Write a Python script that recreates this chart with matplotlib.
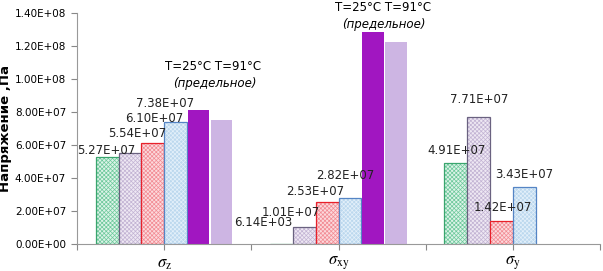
import numpy as np
import matplotlib
matplotlib.use('Agg')
from matplotlib import pyplot as plt

categories = [r'$\sigma_\mathrm{z}$', r'$\sigma_\mathrm{xy}$', r'$\sigma_\mathrm{y}$']
green_vals = [5.27e7, 6.14e3, 4.91e7]
lilac_vals = [5.54e7, 1.01e7, 7.71e7]
red_vals = [6.10e7, 2.53e7, 1.42e7]
blue_vals = [7.38e7, 2.82e7, 3.43e7]
purple_vals = [8.1e7, 1.285e8, np.nan]
lpurple_vals = [7.5e7, 1.225e8, np.nan]
y_ticks = [0, 2e7, 4e7, 6e7, 8e7, 1.0e8, 1.2e8, 1.4e8]

# label offsets in pixels (dx, dy) from bar top centre
label_offsets = [
    [(-1, 7), (-18, 21), (1, 13)],
    [(7, 19), (-14, 15), (1, 17)],
    [(1, 25), (-12, 11), (1, 13)],
    [(-11, 19), (-5, 22), (0, 13)],
]

plt.rcParams['hatch.linewidth'] = 0.5
plt.rcParams['mathtext.fontset'] = 'stix'

fig = plt.figure(figsize=(6.03, 2.71), dpi=100)
ax = fig.add_axes([0.128, 0.0996, 0.867, 0.852])

x = np.arange(len(categories))
w = 0.131
series = [
    (green_vals, '#dcf3e8', '#6cc89a', '#3aa56e', 'xxxxxxxx'),
    (lilac_vals, '#eee8f3', '#c2b3d3', '#6a6280', 'xxxxxxxx'),
    (red_vals, '#fcd9dc', '#f28a93', '#e8202a', 'xxxxxxxx'),
    (blue_vals, '#bcd8ee', '#e4f0fa', '#5585c5', 'xxxxxxxx'),
    (purple_vals, '#a116c1', None, '#a116c1', None),
    (lpurple_vals, '#cdb5e3', None, '#cdb5e3', None),
]

for i, (vals, face, hatch_c, edge, hatch) in enumerate(series):
    pos = x + (i - 2.5) * w
    if hatch:
        ax.bar(pos, vals, w, color=face, edgecolor=hatch_c, hatch=hatch, linewidth=0)
        ax.bar(pos, vals, w, fill=False, edgecolor=edge, linewidth=0.9)
    else:
        ax.bar(pos, vals, w * 0.95, color=face, linewidth=0)
    if i < 4:
        for j, v in enumerate(vals):
            dx, dy = label_offsets[i][j]
            ax.annotate('%.2E' % v, (pos[j], v), xytext=(dx * 0.72, dy * 0.72),
                        textcoords='offset points', ha='center', va='center',
                        fontsize=8.5, color='#222222')

ax.text(0.277, 1.079e8, 'T=25°C T=91°C', ha='center', va='center', fontsize=8.5)
ax.text(0.29, 0.976e8, '(предельное)', ha='center', va='center', fontsize=8.5, style='italic')
ax.text(1.254, 1.436e8, 'T=25°C T=91°C', ha='center', va='center', fontsize=8.5)
ax.text(1.26, 1.333e8, '(предельное)', ha='center', va='center', fontsize=8.5, style='italic')

ax.set_xlim(-0.486, 2.47)
ax.set_ylim(0, 1.4e8)
ax.set_yticks(y_ticks)
ax.set_yticklabels(['%.2E' % t for t in y_ticks], fontsize=7.5)
ax.set_xticks([-0.5, 0, 0.5, 1, 1.5, 2, 2.5])
ax.set_xticklabels(['', categories[0], '', categories[1], '', categories[2], ''], fontsize=12)
ax.tick_params(axis='x', length=4, color='#888888', pad=3)
ax.tick_params(axis='y', length=4, color='#888888', pad=4)
ax.set_ylabel('Напряжение ,Па', fontsize=9.5, fontweight='bold')
ax.yaxis.set_label_coords(-0.125, 0.5)

for s in ['top', 'right']:
    ax.spines[s].set_visible(False)
for s in ['left', 'bottom']:
    ax.spines[s].set_color('#999999')

fig.savefig('out.png', dpi=100)
